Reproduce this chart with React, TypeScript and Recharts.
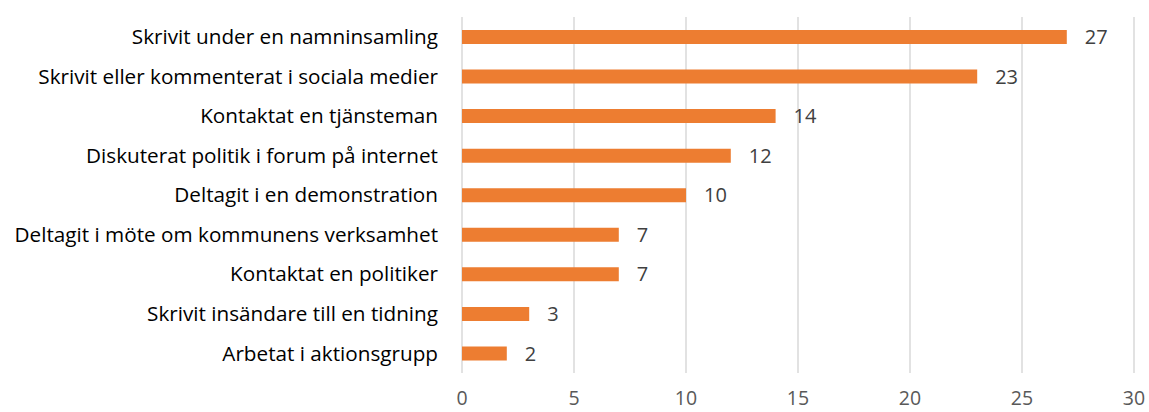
import React from "react";
import { BarChart, Bar, XAxis, YAxis, CartesianGrid, LabelList } from "recharts";

const categories = [
  "Skrivit under en namninsamling",
  "Skrivit eller kommenterat i sociala medier",
  "Kontaktat en tjänsteman",
  "Diskuterat politik i forum på internet",
  "Deltagit i en demonstration",
  "Deltagit i möte om kommunens verksamhet",
  "Kontaktat en politiker",
  "Skrivit insändare till en tidning",
  "Arbetat i aktionsgrupp",
];
const values = [27, 23, 14, 12, 10, 7, 7, 3, 2];
const xTicks = [0, 5, 10, 15, 20, 25, 30];

const data = categories.map((name, i) => ({ name, value: values[i] }));

const FONT = "'Open Sans', 'Noto Sans', sans-serif";

export default function App() {
  return (
    <div style={{ position: "absolute", left: 0, top: 0, width: 1149, height: 412, background: "#fff" }}>
      <BarChart
        width={1149}
        height={412}
        data={data}
        layout="vertical"
        margin={{ top: 17, right: 15, bottom: 0, left: 0 }}
        barCategoryGap={0}
      >
        <CartesianGrid horizontal={false} vertical={true} stroke="#D9D9D9" strokeWidth={1.5} />
        <XAxis
          type="number"
          domain={[0, 30]}
          ticks={xTicks}
          axisLine={false}
          tickLine={false}
          tickSize={0}
          tickMargin={18}
          height={39}
          tick={{ fill: "#595959", fontSize: 19.5, fontFamily: FONT }}
          interval={0}
        />
        <YAxis
          type="category"
          dataKey="name"
          width={462}
          axisLine={false}
          tickLine={false}
          tickSize={0}
          tickMargin={24}
          interval={0}
          tick={{ fill: "#000000", fontSize: 20.7, fontFamily: FONT }}
        />
        <Bar dataKey="value" fill="#ED7D31" barSize={14} isAnimationActive={false}>
          <LabelList
            dataKey="value"
            position="right"
            offset={18}
            style={{ fill: "#404040", fontSize: 20, fontFamily: FONT }}
          />
        </Bar>
      </BarChart>
    </div>
  );
}
